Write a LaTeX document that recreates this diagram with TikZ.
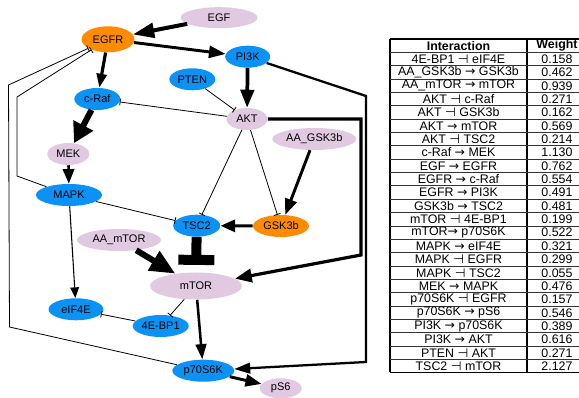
\documentclass[tikz,border=0pt]{standalone}
\usepackage{fontspec}
\setmainfont{Liberation Sans}
\newfontfamily\symfont{DejaVu Sans}
\usetikzlibrary{shapes.geometric,arrows.meta}
\definecolor{nblue}{RGB}{12,146,245}
\definecolor{norange}{RGB}{255,140,0}
\definecolor{npink}{RGB}{225,201,226}
\newcommand\myinh{{\symfont ⊣}}
\newcommand\myact{{\symfont →}}
\begin{document}
\begin{tikzpicture}[x=0.75pt,y=-0.75pt,
  nd/.style={ellipse,inner sep=0pt,font=\fontsize{8.25}{9}\selectfont,text=black},
  bn/.style={nd,fill=nblue},
  on/.style={nd,fill=norange},
  pn/.style={nd,fill=npink},
  sz/.style 2 args={minimum width=#1*0.75pt,minimum height=#2*0.75pt},
  act/.style n args={3}{line width=#1,-{Triangle[length=#2,width=#3]}},
  inh/.style={line width=0.6pt,-{Bar[width=5pt]}},
  tcell/.style={inner sep=0pt,font=\fontsize{9.3}{10}\selectfont},
  thead/.style={tcell,font=\fontsize{9.3}{10}\selectfont\bfseries}
]
\useasboundingbox (0,0) rectangle (579,398);
% nodes
\node[pn,sz={77}{21}] (EGF) at (219,17.7) {EGF};
\node[on,sz={53}{26}] (EGFR) at (108,39.3) {EGFR};
\node[bn,sz={45}{22}] (PI3K) at (247.7,56.7) {PI3K};
\node[bn,sz={46}{22}] (PTEN) at (192.3,79.3) {PTEN};
\node[bn,sz={46}{22}] (cRaf) at (97.3,99) {c-Raf};
\node[pn,sz={41}{22}] (AKT) at (247,119) {AKT};
\node[pn,sz={84}{22}] (AAG) at (314.3,139) {AA\_GSK3b};
\node[pn,sz={42}{22}] (MEK) at (68.3,154) {MEK};
\node[bn,sz={66}{22}] (MAPK) at (69,195) {MAPK};
\node[bn,sz={47}{22}] (TSC2) at (196.7,225.7) {TSC2};
\node[on,sz={56}{22}] (GSK3b) at (281,226) {GSK3b};
\node[pn,sz={84}{22}] (AAM) at (119,240) {AA\_mTOR};
\node[pn,sz={92}{27}] (mTOR) at (196,286) {mTOR};
\node[bn,sz={55}{22}] (eIF4E) at (76,309.3) {eIF4E};
\node[bn,sz={56}{22}] (BP1) at (160.7,326) {4E-BP1};
\node[bn,sz={62}{22}] (p70) at (203.3,370.7) {p70S6K};
\node[pn,sz={42}{20}] (pS6) at (280.7,388.3) {pS6};
% bend points
\coordinate (c1) at (361,119);
\coordinate (c2) at (361,255);
\coordinate (d1) at (366,96);
\coordinate (d2) at (366,362);
\coordinate (e1) at (17,176);
\coordinate (e2) at (17,97);
\coordinate (f1) at (9.5,327);
\coordinate (f2) at (8.5,85);
% activating edges
\draw[act={3pt}{16pt}{11pt}] (EGF) -- (EGFR);
\draw[act={2.2pt}{12.5pt}{9pt}] (EGFR) -- (PI3K);
\draw[act={2.4pt}{10.5pt}{7.5pt}] (EGFR) -- (cRaf);
\draw[act={2.8pt}{13.5pt}{10pt}] (PI3K) -- (AKT);
\draw[act={4.5pt}{15pt}{16pt}] (cRaf) -- (MEK);
\draw[act={1.9pt}{11pt}{8.5pt}] (MEK) -- (MAPK);
\draw[act={2.2pt}{12pt}{9pt}] (AAG) -- (GSK3b);
\draw[act={2.3pt}{11pt}{9pt}] (GSK3b) -- (TSC2);
\draw[act={4.5pt}{19pt}{16pt}] (AAM) -- (mTOR);
\draw[act={2.4pt}{12.5pt}{10pt}] (AKT) -- (c1) -- (c2) -- (mTOR);
\draw[act={1.9pt}{11.5pt}{8pt}] (mTOR) -- (p70);
\draw[act={1.7pt}{12pt}{8pt}] (PI3K) -- (d1) -- (d2) -- (p70);
\draw[act={2.2pt}{12pt}{9pt}] (p70) -- (pS6);
\draw[act={0.8pt}{8pt}{6.5pt}] (MAPK) -- (eIF4E);
% inhibiting edges
\draw[inh] (PTEN) -- (AKT);
\draw[inh] (AKT) -- (cRaf);
\draw[inh] (AKT) -- (TSC2);
\draw[inh] (AKT) -- (GSK3b);
\draw[inh] (MAPK) -- (TSC2);
\draw[inh] (mTOR) -- (BP1);
\draw[inh] (BP1) -- (eIF4E);
\draw[inh] (MAPK) -- (e1) -- (e2) -- (EGFR);
\draw[inh] (p70) -- (f1) -- (f2) -- (EGFR);
\draw[line width=7.5pt,-{Bar[width=27pt]},shorten >=5.5pt] (TSC2) -- (mTOR);
% table
\def\rh{13.36}
\draw[line width=0.9pt] (390,39) -- (579,39);
\draw[line width=0.9pt] (390,372.4) -- (579,372.4);
\draw[line width=0.9pt] (390,39) -- (390,372.4);
\draw[line width=0.9pt] (527,39) -- (527,372.4);
\foreach \k in {1,...,24} {
  \draw[line width=0.8pt,black!80] (390,39+\k*\rh) -- (579,39+\k*\rh);
}
\node[thead] (th1) at (458.5,39+0.5*\rh) {Interaction};
\node[thead] (th2) at (557,39+0.5*\rh) {Weight};
\foreach \a/\b [count=\i] in {
  4E-BP1 \myinh{} eIF4E/0.158,
  AA\_GSK3b \myact{} GSK3b/0.462,
  AA\_mTOR \myact{} mTOR/0.939,
  AKT \myinh{} c-Raf/0.271,
  AKT \myinh{} GSK3b/0.162,
  AKT \myact{} mTOR/0.569,
  AKT \myinh{} TSC2/0.214,
  c-Raf \myact{} MEK/1.130,
  EGF \myact{} EGFR/0.762,
  EGFR \myact{} c-Raf/0.554,
  EGFR \myact{} PI3K/0.491,
  GSK3b \myact{} TSC2/0.481,
  mTOR \myinh{} 4E-BP1/0.199,
  mTOR\myact{} p70S6K/0.522,
  MAPK \myact{} eIF4E/0.321,
  MAPK \myinh{} EGFR/0.299,
  MAPK \myinh{} TSC2/0.055,
  MEK \myact{} MAPK/0.476,
  p70S6K \myinh{} EGFR/0.157,
  p70S6K \myact{} pS6/0.546,
  PI3K \myact{} p70S6K/0.389,
  PI3K \myact{} AKT/0.616,
  PTEN \myinh{} AKT/0.271,
  TSC2 \myinh{} mTOR/2.127} {
  \node[tcell] (ra\i) at (458.5,39+\i*\rh+0.5*\rh) {\a};
  \node[tcell] (rb\i) at (557,39+\i*\rh+0.5*\rh) {\b};
}
\end{tikzpicture}
\end{document}
